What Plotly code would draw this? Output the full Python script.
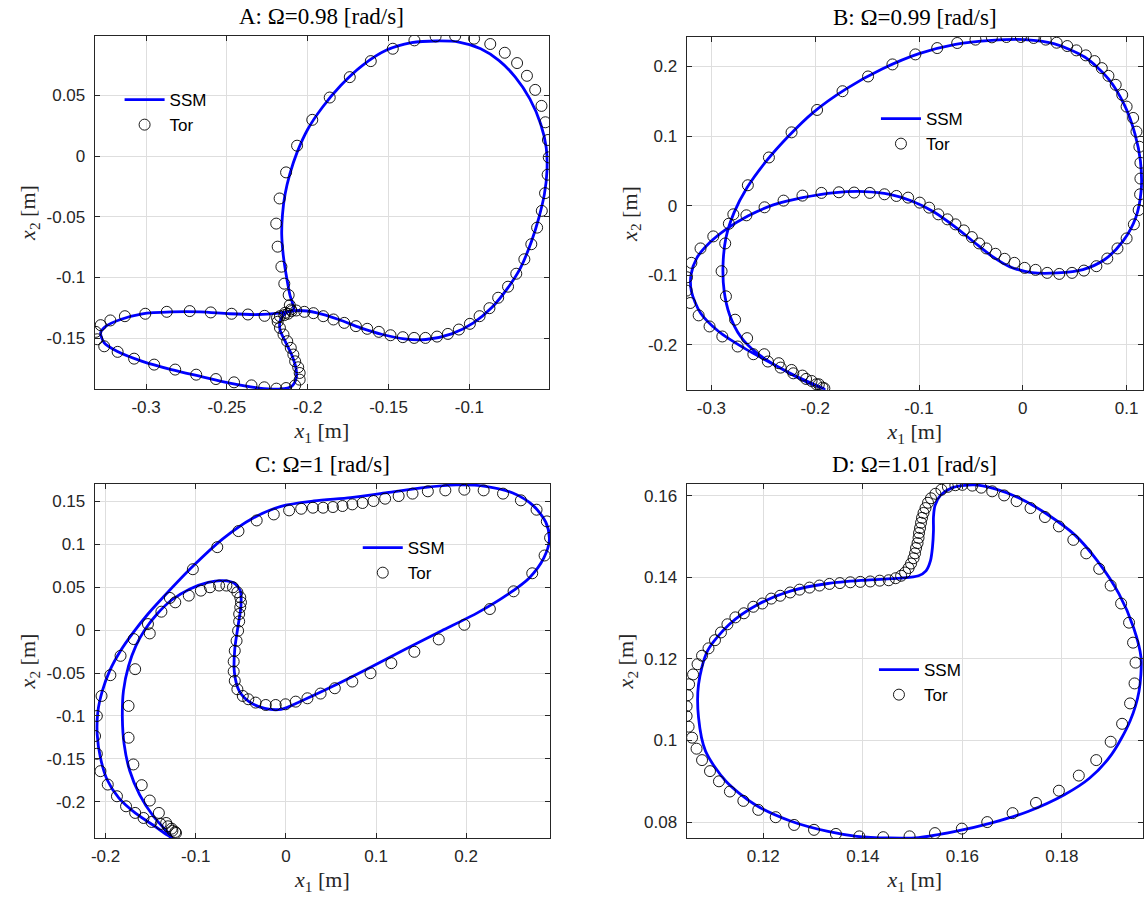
import plotly.graph_objects as go

# ---------------- Panel A: Omega = 0.98 ----------------
a_ssm_x1 = [-0.2088, -0.2111, -0.2134, -0.2152, -0.2161, -0.2156, -0.2140, -0.2111, -0.2066, -0.1999,
            -0.1909, -0.1796, -0.1661, -0.1515, -0.1358, -0.1200, -0.1065, -0.0930, -0.0818, -0.0716,
            -0.0626, -0.0559, -0.0525, -0.0520, -0.0536, -0.0570, -0.0615, -0.0683, -0.0761, -0.0863,
            -0.0975, -0.1110, -0.1268, -0.1403, -0.1538, -0.1673, -0.1808, -0.1943, -0.2055, -0.2168,
            -0.2303, -0.2483, -0.2663, -0.2843, -0.3023, -0.3158, -0.3248, -0.3281, -0.3259, -0.3180,
            -0.3023, -0.2843, -0.2663, -0.2483, -0.2303, -0.2168, -0.2100, -0.2071, -0.2073, -0.2100,
            -0.2140, -0.2172, -0.2168, -0.2134, -0.2088]
a_ssm_x2 = [-0.1265, -0.1141, -0.0975, -0.0810, -0.0645, -0.0479, -0.0314, -0.0149, 0.0030, 0.0223,
            0.0402, 0.0581, 0.0747, 0.0871, 0.0934, 0.0948, 0.0939, 0.0884, 0.0788, 0.0650,
            0.0471, 0.0264, 0.0072, -0.0121, -0.0314, -0.0507, -0.0700, -0.0920, -0.1085, -0.1251,
            -0.1375, -0.1466, -0.1512, -0.1507, -0.1471, -0.1416, -0.1347, -0.1292, -0.1273, -0.1292,
            -0.1306, -0.1300, -0.1284, -0.1284, -0.1300, -0.1347, -0.1402, -0.1457, -0.1540, -0.1609,
            -0.1692, -0.1760, -0.1816, -0.1871, -0.1912, -0.1920, -0.1898, -0.1829, -0.1747, -0.1636,
            -0.1526, -0.1430, -0.1347, -0.1292, -0.1265]
a_tor_x1 = [-0.2111, -0.2118, -0.2145, -0.2163, -0.2186, -0.2195, -0.2174, -0.2134, -0.2066, -0.1972,
            -0.1864, -0.1740, -0.1610, -0.1474, -0.1340, -0.1209, -0.1088, -0.0971, -0.0871, -0.0781,
            -0.0705, -0.0644, -0.0593, -0.0554, -0.0530, -0.0514, -0.0509, -0.0516, -0.0532, -0.0552,
            -0.0581, -0.0617, -0.0660, -0.0710, -0.0761, -0.0822, -0.0876, -0.0937, -0.0997, -0.1065,
            -0.1133, -0.1200, -0.1272, -0.1342, -0.1412, -0.1488, -0.1560, -0.1632, -0.1702, -0.1774,
            -0.1841, -0.1904, -0.1965, -0.2021, -0.2071, -0.2100, -0.2122, -0.2145, -0.2172, -0.2190,
            -0.2267, -0.2370, -0.2471, -0.2600, -0.2730, -0.2872, -0.3005, -0.3131, -0.3221, -0.3281,
            -0.3311, -0.3302, -0.3259, -0.3176, -0.3074, -0.2950, -0.2820, -0.2690, -0.2568, -0.2456,
            -0.2348, -0.2269, -0.2194, -0.2134, -0.2078, -0.2050, -0.2050, -0.2059, -0.2078, -0.2089,
            -0.2105, -0.2127, -0.2150, -0.2172, -0.2186, -0.2140, -0.2104]
a_tor_x2 = [-0.1229, -0.1146, -0.1052, -0.0912, -0.0747, -0.0557, -0.0350, -0.0135, 0.0085, 0.0298,
            0.0482, 0.0650, 0.0782, 0.0884, 0.0953, 0.0986, 0.0989, 0.0967, 0.0923, 0.0851,
            0.0766, 0.0661, 0.0545, 0.0413, 0.0278, 0.0132, -0.0011, -0.0154, -0.0306, -0.0452,
            -0.0590, -0.0727, -0.0851, -0.0970, -0.1077, -0.1168, -0.1254, -0.1320, -0.1383, -0.1430,
            -0.1466, -0.1488, -0.1499, -0.1499, -0.1493, -0.1477, -0.1449, -0.1424, -0.1402, -0.1375,
            -0.1347, -0.1320, -0.1295, -0.1284, -0.1273, -0.1278, -0.1300, -0.1311, -0.1320, -0.1333,
            -0.1317, -0.1306, -0.1300, -0.1289, -0.1278, -0.1284, -0.1300, -0.1320, -0.1355, -0.1394,
            -0.1449, -0.1510, -0.1568, -0.1614, -0.1670, -0.1719, -0.1760, -0.1802, -0.1838, -0.1865,
            -0.1890, -0.1906, -0.1917, -0.1912, -0.1890, -0.1843, -0.1788, -0.1741, -0.1692, -0.1636,
            -0.1581, -0.1526, -0.1471, -0.1416, -0.1366, -0.1292, -0.1265]

# ---------------- Panel B: Omega = 0.99 ----------------
b_ssm_x1 = [-0.1912, -0.2158, -0.2404, -0.2684, -0.2930, -0.3105, -0.3193, -0.3196, -0.3140, -0.3018,
            -0.2860, -0.2649, -0.2404, -0.2123, -0.1807, -0.1526, -0.1281, -0.1070, -0.0860, -0.0649,
            -0.0474, -0.0298, -0.0123, 0.0088, 0.0333, 0.0579, 0.0789, 0.0965, 0.1088, 0.1140,
            0.1133, 0.1081, 0.0982, 0.0825, 0.0596, 0.0298, 0.0018, -0.0298, -0.0649, -0.1000,
            -0.1351, -0.1702, -0.2018, -0.2263, -0.2474, -0.2656, -0.2782, -0.2860, -0.2888, -0.2877,
            -0.2825, -0.2719, -0.2561, -0.2333, -0.2088, -0.1912]
b_ssm_x2 = [-0.2635, -0.2471, -0.2279, -0.2048, -0.1808, -0.1543, -0.1231, -0.0990, -0.0750, -0.0534,
            -0.0341, -0.0149, 0.0010, 0.0115, 0.0188, 0.0202, 0.0163, 0.0067, -0.0087, -0.0308,
            -0.0519, -0.0726, -0.0880, -0.0962, -0.0966, -0.0918, -0.0774, -0.0510, -0.0173, 0.0212,
            0.0644, 0.1029, 0.1438, 0.1822, 0.2135, 0.2327, 0.2385, 0.2375, 0.2317, 0.2183,
            0.1966, 0.1678, 0.1341, 0.0990, 0.0635, 0.0260, -0.0101, -0.0462, -0.0846, -0.1231,
            -0.1567, -0.1880, -0.2120, -0.2337, -0.2529, -0.2635]
b_tor_x1 = [-0.1912, -0.1965, -0.2035, -0.2123, -0.2228, -0.2351, -0.2491, -0.2656, -0.2772, -0.2860,
            -0.2902, -0.2867, -0.2789, -0.2649, -0.2446, -0.2228, -0.1982, -0.1737, -0.1491, -0.1256,
            -0.1035, -0.0825, -0.0632, -0.0456, -0.0298, -0.0158, -0.0018, 0.0105, 0.0221, 0.0326,
            0.0428, 0.0516, 0.0607, 0.0691, 0.0761, 0.0825, 0.0895, 0.0958, 0.1000, 0.1063,
            0.1095, 0.1123, 0.1133, 0.1133, 0.1130, 0.1116, 0.1070, 0.1000, 0.0912, 0.0814,
            0.0709, 0.0589, 0.0474, 0.0351, 0.0235, 0.0123, 0.0018, -0.0081, -0.0175, -0.0263,
            -0.0351, -0.0421, -0.0491, -0.0568, -0.0649, -0.0726, -0.0814, -0.0902, -0.0993, -0.1105,
            -0.1218, -0.1333, -0.1474, -0.1625, -0.1772, -0.1940, -0.2123, -0.2305, -0.2488, -0.2663,
            -0.2832, -0.2982, -0.3105, -0.3193, -0.3235, -0.3239, -0.3204, -0.3123, -0.3018, -0.2895,
            -0.2747, -0.2596, -0.2456, -0.2333, -0.2211, -0.2088, -0.1989, -0.1930]
b_tor_x2 = [-0.2625, -0.2567, -0.2519, -0.2442, -0.2361, -0.2264, -0.2135, -0.1904, -0.1639, -0.1303,
            -0.0942, -0.0543, -0.0125, 0.0293, 0.0692, 0.1053, 0.1375, 0.1644, 0.1856, 0.2029,
            0.2173, 0.2264, 0.2337, 0.2385, 0.2418, 0.2423, 0.2423, 0.2409, 0.2385, 0.2341,
            0.2293, 0.2231, 0.2159, 0.2077, 0.1976, 0.1865, 0.1736, 0.1591, 0.1423, 0.1260,
            0.1063, 0.0846, 0.0615, 0.0389, 0.0163, -0.0063, -0.0269, -0.0471, -0.0615, -0.0760,
            -0.0870, -0.0933, -0.0966, -0.0981, -0.0966, -0.0923, -0.0894, -0.0822, -0.0764, -0.0692,
            -0.0615, -0.0543, -0.0452, -0.0356, -0.0269, -0.0197, -0.0125, -0.0029, 0.0043, 0.0115,
            0.0139, 0.0163, 0.0183, 0.0188, 0.0192, 0.0183, 0.0144, 0.0072, -0.0024, -0.0139,
            -0.0260, -0.0442, -0.0615, -0.0822, -0.1029, -0.1221, -0.1399, -0.1577, -0.1736, -0.1880,
            -0.2024, -0.2135, -0.2240, -0.2327, -0.2409, -0.2490, -0.2567, -0.2615]

# ---------------- Panel C: Omega = 1 ----------------
c_ssm_x1 = [-0.1259, -0.1470, -0.1672, -0.1854, -0.1984, -0.2057, -0.2093, -0.2085, -0.2036, -0.1955,
            -0.1834, -0.1692, -0.1530, -0.1328, -0.1024, -0.0700, -0.0377, -0.0053, 0.0312, 0.0717,
            0.1121, 0.1526, 0.1891, 0.2215, 0.2518, 0.2741, 0.2883, 0.2923, 0.2862, 0.2700,
            0.2457, 0.2134, 0.1729, 0.1324, 0.0919, 0.0514, 0.0190, -0.0053, -0.0235, -0.0409,
            -0.0518, -0.0571, -0.0567, -0.0530, -0.0498, -0.0506, -0.0571, -0.0700, -0.0862, -0.1065,
            -0.1267, -0.1429, -0.1559, -0.1664, -0.1745, -0.1802, -0.1814, -0.1794, -0.1733, -0.1623,
            -0.1470, -0.1259]
c_ssm_x2 = [-0.2420, -0.2272, -0.2128, -0.1953, -0.1739, -0.1486, -0.1214, -0.0942, -0.0708, -0.0475,
            -0.0241, -0.0027, 0.0187, 0.0420, 0.0751, 0.1062, 0.1296, 0.1440, 0.1502, 0.1541,
            0.1599, 0.1658, 0.1689, 0.1673, 0.1595, 0.1451, 0.1257, 0.1051, 0.0840, 0.0607,
            0.0412, 0.0206, -0.0008, -0.0222, -0.0444, -0.0658, -0.0817, -0.0922, -0.0911, -0.0833,
            -0.0708, -0.0494, -0.0222, 0.0051, 0.0284, 0.0459, 0.0545, 0.0576, 0.0556, 0.0479,
            0.0350, 0.0187, 0.0012, -0.0183, -0.0416, -0.0708, -0.1019, -0.1331, -0.1634, -0.1914,
            -0.2167, -0.2420]
c_tor_x1 = [-0.1219, -0.1259, -0.1308, -0.1389, -0.1490, -0.1579, -0.1672, -0.1773, -0.1874, -0.1976,
            -0.2057, -0.2097, -0.2117, -0.2097, -0.2045, -0.1947, -0.1834, -0.1688, -0.1530, -0.1381,
            -0.1227, -0.1077, -0.0943, -0.0842, -0.0741, -0.0660, -0.0587, -0.0538, -0.0506, -0.0498,
            -0.0506, -0.0518, -0.0518, -0.0530, -0.0547, -0.0567, -0.0579, -0.0579, -0.0567, -0.0538,
            -0.0478, -0.0417, -0.0336, -0.0223, -0.0113, -0.0004, 0.0109, 0.0239, 0.0385, 0.0543,
            0.0737, 0.0939, 0.1170, 0.1425, 0.1696, 0.1980, 0.2263, 0.2526, 0.2733, 0.2870,
            0.2931, 0.2895, 0.2781, 0.2607, 0.2409, 0.2194, 0.1980, 0.1769, 0.1575, 0.1405,
            0.1251, 0.1101, 0.0972, 0.0850, 0.0737, 0.0628, 0.0522, 0.0413, 0.0300, 0.0170,
            0.0036, -0.0134, -0.0324, -0.0526, -0.0761, -0.1032, -0.1287, -0.1510, -0.1672, -0.1745,
            -0.1745, -0.1692, -0.1599, -0.1510, -0.1409, -0.1328, -0.1267, -0.1227]
c_tor_x2 = [-0.2362, -0.2335, -0.2284, -0.2257, -0.2233, -0.2187, -0.2128, -0.2051, -0.1934, -0.1798,
            -0.1642, -0.1440, -0.1233, -0.1000, -0.0767, -0.0525, -0.0300, -0.0105, 0.0070, 0.0214,
            0.0323, 0.0401, 0.0459, 0.0498, 0.0518, 0.0518, 0.0498, 0.0440, 0.0381, 0.0323,
            0.0265, 0.0187, 0.0101, -0.0008, -0.0125, -0.0241, -0.0366, -0.0482, -0.0591, -0.0689,
            -0.0767, -0.0805, -0.0844, -0.0872, -0.0872, -0.0864, -0.0833, -0.0794, -0.0739, -0.0677,
            -0.0599, -0.0502, -0.0385, -0.0253, -0.0109, 0.0062, 0.0245, 0.0451, 0.0661, 0.0868,
            0.1074, 0.1265, 0.1401, 0.1510, 0.1588, 0.1626, 0.1634, 0.1626, 0.1615, 0.1588,
            0.1560, 0.1529, 0.1502, 0.1479, 0.1463, 0.1444, 0.1432, 0.1424, 0.1424, 0.1412,
            0.1393, 0.1346, 0.1276, 0.1152, 0.0965, 0.0708, 0.0374, -0.0039, -0.0455, -0.0883,
            -0.1253, -0.1564, -0.1805, -0.1984, -0.2128, -0.2245, -0.2311, -0.2350]

# ---------------- Panel D: Omega = 1.01 ----------------
d_ssm_x1 = [0.1622, 0.1666, 0.1717, 0.1769, 0.1827, 0.1871, 0.1915, 0.1944, 0.1959, 0.1955,
            0.1937, 0.1900, 0.1856, 0.1805, 0.1732, 0.1659, 0.1586, 0.1512, 0.1454, 0.1388,
            0.1330, 0.1256, 0.1183, 0.1125, 0.1084, 0.1070, 0.1070, 0.1088, 0.1132, 0.1190,
            0.1256, 0.1330, 0.1403, 0.1476, 0.1512, 0.1527, 0.1536, 0.1540, 0.1542, 0.1542,
            0.1545, 0.1556, 0.1578, 0.1622]
d_ssm_x2 = [0.1627, 0.1617, 0.1593, 0.1556, 0.1503, 0.1441, 0.1359, 0.1277, 0.1203, 0.1121,
            0.1048, 0.0966, 0.0908, 0.0867, 0.0826, 0.0798, 0.0777, 0.0762, 0.0761, 0.0765,
            0.0777, 0.0802, 0.0843, 0.0900, 0.0974, 0.1056, 0.1138, 0.1220, 0.1285, 0.1334,
            0.1367, 0.1385, 0.1393, 0.1398, 0.1404, 0.1416, 0.1441, 0.1474, 0.1515, 0.1548,
            0.1576, 0.1601, 0.1619, 0.1627]
d_tor_x1 = [0.1600, 0.1620, 0.1638, 0.1660, 0.1684, 0.1709, 0.1737, 0.1766, 0.1794, 0.1823,
            0.1849, 0.1875, 0.1898, 0.1919, 0.1935, 0.1943, 0.1948, 0.1946, 0.1937, 0.1921,
            0.1898, 0.1869, 0.1834, 0.1794, 0.1748, 0.1701, 0.1650, 0.1599, 0.1545, 0.1494,
            0.1441, 0.1393, 0.1346, 0.1302, 0.1262, 0.1225, 0.1190, 0.1160, 0.1133, 0.1111,
            0.1093, 0.1077, 0.1066, 0.1057, 0.1050, 0.1046, 0.1046, 0.1048, 0.1051, 0.1059,
            0.1068, 0.1077, 0.1090, 0.1103, 0.1115, 0.1128, 0.1144, 0.1161, 0.1180, 0.1198,
            0.1216, 0.1234, 0.1254, 0.1273, 0.1293, 0.1313, 0.1333, 0.1354, 0.1375, 0.1395,
            0.1415, 0.1434, 0.1452, 0.1466, 0.1477, 0.1485, 0.1492, 0.1497, 0.1502, 0.1505,
            0.1507, 0.1510, 0.1512, 0.1513, 0.1515, 0.1517, 0.1519, 0.1522, 0.1526, 0.1531,
            0.1537, 0.1546, 0.1558, 0.1571, 0.1586]
d_tor_x2 = [0.1627, 0.1625, 0.1620, 0.1611, 0.1601, 0.1587, 0.1570, 0.1548, 0.1525, 0.1492,
            0.1459, 0.1421, 0.1380, 0.1336, 0.1289, 0.1240, 0.1191, 0.1140, 0.1091, 0.1041,
            0.0997, 0.0952, 0.0914, 0.0877, 0.0847, 0.0822, 0.0800, 0.0784, 0.0773, 0.0765,
            0.0763, 0.0765, 0.0771, 0.0781, 0.0793, 0.0812, 0.0830, 0.0852, 0.0875, 0.0900,
            0.0925, 0.0952, 0.0980, 0.1007, 0.1034, 0.1060, 0.1084, 0.1111, 0.1138, 0.1162,
            0.1187, 0.1208, 0.1226, 0.1246, 0.1265, 0.1285, 0.1302, 0.1312, 0.1328, 0.1336,
            0.1348, 0.1355, 0.1363, 0.1370, 0.1375, 0.1380, 0.1384, 0.1386, 0.1388, 0.1389,
            0.1390, 0.1392, 0.1393, 0.1398, 0.1404, 0.1412, 0.1423, 0.1434, 0.1447, 0.1459,
            0.1472, 0.1484, 0.1497, 0.1509, 0.1521, 0.1534, 0.1546, 0.1558, 0.1570, 0.1583,
            0.1594, 0.1605, 0.1615, 0.1622, 0.1626]

# ---------------- Titles, ticks ----------------
titles = ["A: Ω=0.98 [rad/s]", "B: Ω=0.99 [rad/s]", "C: Ω=1 [rad/s]", "D: Ω=1.01 [rad/s]"]

a_xticks = [-0.3, -0.25, -0.2, -0.15, -0.1]
a_xtext = ["-0.3", "-0.25", "-0.2", "-0.15", "-0.1"]
a_yticks = [0.05, 0.0, -0.05, -0.1, -0.15]
a_ytext = ["0.05", "0", "-0.05", "-0.1", "-0.15"]
b_xticks = [-0.3, -0.2, -0.1, 0.0, 0.1]
b_xtext = ["-0.3", "-0.2", "-0.1", "0", "0.1"]
b_yticks = [0.2, 0.1, 0.0, -0.1, -0.2]
b_ytext = ["0.2", "0.1", "0", "-0.1", "-0.2"]
c_xticks = [-0.2, -0.1, 0.0, 0.1, 0.2]
c_xtext = ["-0.2", "-0.1", "0", "0.1", "0.2"]
c_yticks = [0.15, 0.1, 0.05, 0.0, -0.05, -0.1, -0.15, -0.2]
c_ytext = ["0.15", "0.1", "0.05", "0", "-0.05", "-0.1", "-0.15", "-0.2"]
d_xticks = [0.12, 0.14, 0.16, 0.18]
d_xtext = ["0.12", "0.14", "0.16", "0.18"]
d_yticks = [0.16, 0.14, 0.12, 0.1, 0.08]
d_ytext = ["0.16", "0.14", "0.12", "0.1", "0.08"]

a_xrange = [-0.3318, -0.0507]; a_yrange = [-0.1920, 0.0989]
b_xrange = [-0.3239, 0.1158]; b_yrange = [-0.2649, 0.2423]
c_xrange = [-0.2121, 0.2931]; c_yrange = [-0.2420, 0.1700]
d_xrange = [0.1046, 0.1963]; d_yrange = [0.0761, 0.1629]

W, H = 1145, 897
# plot-area boxes in pixels (left, right, top, bottom)
boxes = [(91, 547, 36, 389), (685, 1143, 37, 390), (91, 548, 484, 838), (685, 1143, 484, 838)]
legend_pos = [(116, 82), (875, 101), (355, 530), (873, 652)]

panels = [
    (a_ssm_x1, a_ssm_x2, a_tor_x1, a_tor_x2, a_xticks, a_xtext, a_yticks, a_ytext, a_xrange, a_yrange),
    (b_ssm_x1, b_ssm_x2, b_tor_x1, b_tor_x2, b_xticks, b_xtext, b_yticks, b_ytext, b_xrange, b_yrange),
    (c_ssm_x1, c_ssm_x2, c_tor_x1, c_tor_x2, c_xticks, c_xtext, c_yticks, c_ytext, c_xrange, c_yrange),
    (d_ssm_x1, d_ssm_x2, d_tor_x1, d_tor_x2, d_xticks, d_xtext, d_yticks, d_ytext, d_xrange, d_yrange),
]

fig = go.Figure()
serif = "Liberation Serif, DejaVu Serif, serif"
sans = "Liberation Sans, Arial, sans-serif"
layout = dict(width=W, height=H, margin=dict(l=0, r=0, t=0, b=0),
              paper_bgcolor="white", plot_bgcolor="white", showlegend=True)
annotations = []

for i, (sx, sy, tx, ty, xt, xtt, yt, ytt, xr, yr) in enumerate(panels):
    n = "" if i == 0 else str(i + 1)
    leg = "legend" if i == 0 else "legend" + str(i + 1)
    fig.add_trace(go.Scatter(x=sx, y=sy, mode="lines", name="SSM",
                             line=dict(color="#0000ff", width=2.8, shape="spline", smoothing=0.8),
                             xaxis="x" + n, yaxis="y" + n, legend=leg, hoverinfo="skip"))
    fig.add_trace(go.Scatter(x=tx, y=ty, mode="markers", name="Tor",
                             marker=dict(symbol="circle-open", size=11, color="black",
                                         line=dict(width=0.9, color="black")),
                             xaxis="x" + n, yaxis="y" + n, legend=leg, hoverinfo="skip"))
    l, r, t, b = boxes[i]
    common = dict(showgrid=True, gridcolor="#dedede", gridwidth=1, zeroline=False,
                  showline=True, linecolor="#262626", linewidth=1, mirror="ticks",
                  ticks="inside", ticklen=5, tickcolor="#262626",
                  tickfont=dict(family=sans, size=17, color="#262626"))
    layout["xaxis" + n] = dict(common, domain=[l / W, r / W], range=xr, anchor="y" + n,
                               tickmode="array", tickvals=xt, ticktext=xtt, ticklabelstandoff=3,
                               title=dict(text="<i>x</i><sub>1</sub> [m]", standoff=6,
                                          font=dict(family=serif, size=22, color="#262626")))
    layout["yaxis" + n] = dict(common, domain=[1 - b / H, 1 - t / H], range=yr, anchor="x" + n,
                               tickmode="array", tickvals=yt, ticktext=ytt, ticklabelstandoff=5,
                               title=dict(text="<i>x</i><sub>2</sub> [m]", standoff=4,
                                          font=dict(family=serif, size=22, color="#262626")))
    lx, ly = legend_pos[i]
    layout[leg] = dict(x=lx / W, y=1 - ly / H, xanchor="left", yanchor="top",
                       bgcolor="rgba(0,0,0,0)", borderwidth=0,
                       font=dict(family=sans, size=17, color="black"),
                       tracegroupgap=0, itemwidth=40)
    annotations.append(dict(text=titles[i], x=(l + r) / 2 / W, y=1 - (t - 5) / H,
                            xref="paper", yref="paper", xanchor="center", yanchor="bottom",
                            showarrow=False, font=dict(family=serif, size=23, color="black")))

layout["annotations"] = annotations
fig.update_layout(**layout)
fig.write_html("out.html", config={"displayModeBar": False},
               post_script="document.body.style.margin='0';")
